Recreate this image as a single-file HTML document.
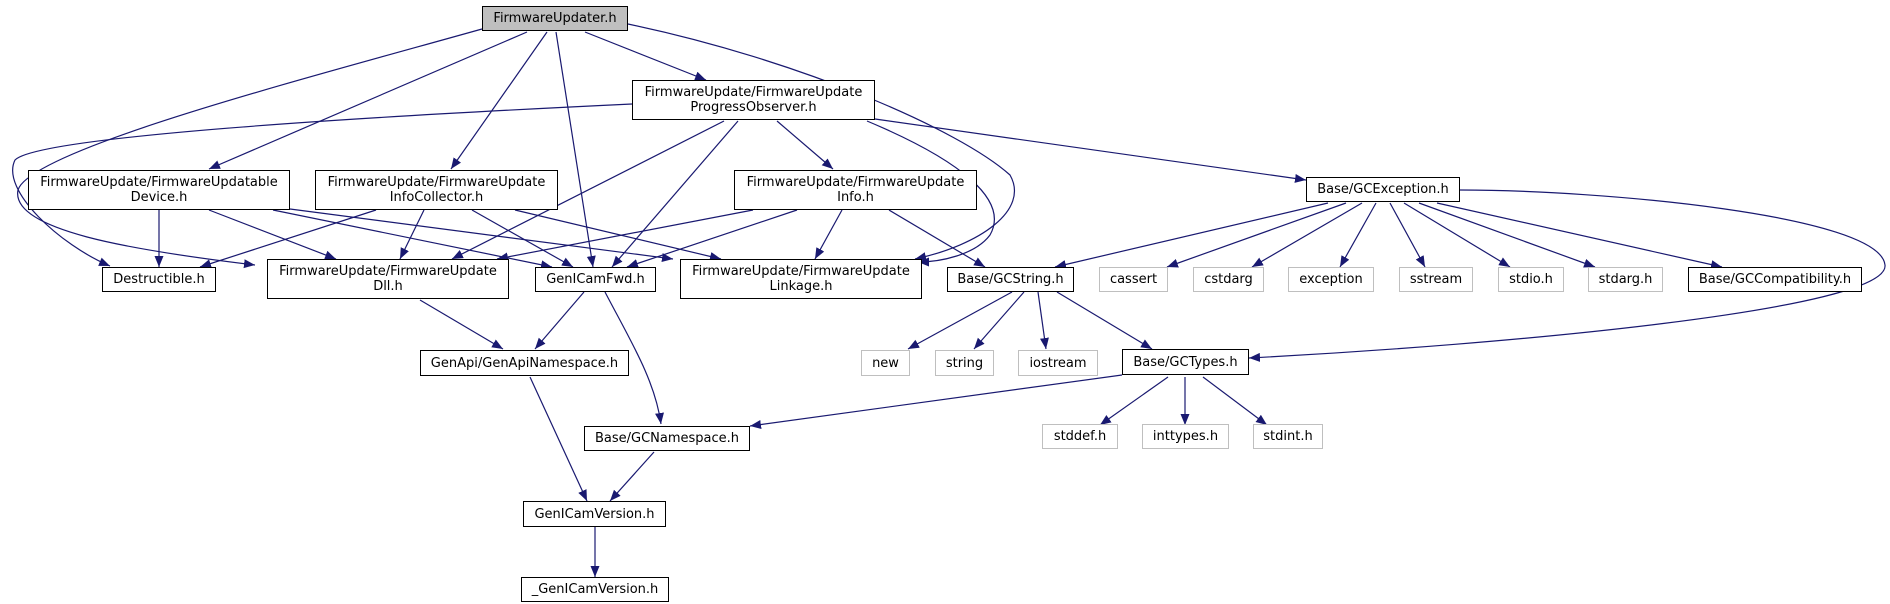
<!DOCTYPE html>
<html><head><meta charset="utf-8"><style>
html,body{margin:0;padding:0;background:#fff;width:1890px;height:604px;overflow:hidden}
.n{position:absolute;box-sizing:border-box;border:1px solid #000;background:#fff;font-family:"DejaVu Sans","Liberation Sans",sans-serif;font-size:13px;color:#000;display:flex;align-items:center;justify-content:center;text-align:center;line-height:15px;white-space:nowrap}
.g{border-color:#bfbfbf}
svg{position:absolute;left:0;top:0}
</style></head><body>
<svg width="1890" height="604" viewBox="0 0 1890 604">
<defs><marker id="a" markerUnits="userSpaceOnUse" markerWidth="12" markerHeight="10" refX="11" refY="4.5" orient="auto"><path d="M0,0 L11,4.5 L0,9 z" fill="#191970"/></marker></defs>
<g stroke="#191970" stroke-width="1.2" fill="none" marker-end="url(#a)">
<path d="M482,29 C300,80 30,150 18,190 C10,230 130,250 255,265"/>
<path d="M632,104 C400,115 40,135 15,160 C0,190 60,245 110,266"/>
<path d="M527,32 L209,169"/>
<path d="M547,32 L451,169"/>
<path d="M556,32 L593,267"/>
<path d="M585,32 L706,80"/>
<path d="M628,24 C800,60 960,130 1010,175 C1030,210 980,245 915,259"/>
<path d="M724,121 L452,259"/>
<path d="M738,121 L612,267"/>
<path d="M777,121 L833,169"/>
<path d="M867,121 C960,160 1010,200 990,235 C975,255 940,262 918,262"/>
<path d="M875,119 L1306,180"/>
<path d="M159,210 L159,267"/>
<path d="M209,210 L336,259"/>
<path d="M273,210 L552,267"/>
<path d="M290,209 L673,259"/>
<path d="M376,210 L200,267"/>
<path d="M424,210 L400,259"/>
<path d="M472,210 L573,267"/>
<path d="M515,210 L721,259"/>
<path d="M753,210 L497,259"/>
<path d="M797,210 L627,267"/>
<path d="M842,210 L815,259"/>
<path d="M889,210 L985,267"/>
<path d="M1328,203 L1055,267"/>
<path d="M1346,203 L1167,267"/>
<path d="M1362,203 L1252,267"/>
<path d="M1376,203 L1340,267"/>
<path d="M1390,203 L1425,267"/>
<path d="M1404,203 L1510,267"/>
<path d="M1419,203 L1595,267"/>
<path d="M1437,203 L1722,267"/>
<path d="M1460,190 C1600,190 1880,215 1885,265 C1890,310 1500,345 1249,358"/>
<path d="M1012,292 L908,349"/>
<path d="M1024,292 L974,349"/>
<path d="M1038,292 L1046,349"/>
<path d="M1057,292 L1152,349"/>
<path d="M584,292 L535,349"/>
<path d="M605,292 C630,340 655,380 661,424"/>
<path d="M420,300 L503,349"/>
<path d="M530,377 L587,501"/>
<path d="M654,452 L610,501"/>
<path d="M595,527 L595,577"/>
<path d="M1122,375 L750,426"/>
<path d="M1168,377 L1100,425"/>
<path d="M1185,377 L1185,425"/>
<path d="M1203,377 L1267,425"/>
</g></svg>
<div class="n" style="left:482px;top:6px;width:146px;height:25px;background:#bfbfbf">FirmwareUpdater.h</div>
<div class="n" style="left:632px;top:80px;width:243px;height:40px">FirmwareUpdate/FirmwareUpdate<br>ProgressObserver.h</div>
<div class="n" style="left:28px;top:170px;width:262px;height:40px">FirmwareUpdate/FirmwareUpdatable<br>Device.h</div>
<div class="n" style="left:315px;top:170px;width:243px;height:40px">FirmwareUpdate/FirmwareUpdate<br>InfoCollector.h</div>
<div class="n" style="left:734px;top:170px;width:243px;height:40px">FirmwareUpdate/FirmwareUpdate<br>Info.h</div>
<div class="n" style="left:102px;top:267px;width:114px;height:25px">Destructible.h</div>
<div class="n" style="left:267px;top:259px;width:242px;height:40px">FirmwareUpdate/FirmwareUpdate<br>Dll.h</div>
<div class="n" style="left:535px;top:267px;width:121px;height:25px">GenICamFwd.h</div>
<div class="n" style="left:680px;top:259px;width:242px;height:40px">FirmwareUpdate/FirmwareUpdate<br>Linkage.h</div>
<div class="n" style="left:1306px;top:177px;width:154px;height:25px">Base/GCException.h</div>
<div class="n" style="left:947px;top:267px;width:127px;height:25px">Base/GCString.h</div>
<div class="n g" style="left:1099px;top:267px;width:69px;height:25px">cassert</div>
<div class="n g" style="left:1193px;top:267px;width:71px;height:25px">cstdarg</div>
<div class="n g" style="left:1288px;top:267px;width:86px;height:25px">exception</div>
<div class="n g" style="left:1399px;top:267px;width:74px;height:25px">sstream</div>
<div class="n g" style="left:1498px;top:267px;width:66px;height:25px">stdio.h</div>
<div class="n g" style="left:1588px;top:267px;width:75px;height:25px">stdarg.h</div>
<div class="n" style="left:1688px;top:267px;width:174px;height:25px">Base/GCCompatibility.h</div>
<div class="n" style="left:420px;top:350px;width:209px;height:26px">GenApi/GenApiNamespace.h</div>
<div class="n g" style="left:861px;top:350px;width:49px;height:26px">new</div>
<div class="n g" style="left:935px;top:350px;width:59px;height:26px">string</div>
<div class="n g" style="left:1018px;top:350px;width:80px;height:26px">iostream</div>
<div class="n" style="left:1122px;top:349px;width:127px;height:26px">Base/GCTypes.h</div>
<div class="n" style="left:584px;top:426px;width:166px;height:25px">Base/GCNamespace.h</div>
<div class="n g" style="left:1042px;top:424px;width:76px;height:25px">stddef.h</div>
<div class="n g" style="left:1142px;top:424px;width:87px;height:25px">inttypes.h</div>
<div class="n g" style="left:1253px;top:424px;width:70px;height:25px">stdint.h</div>
<div class="n" style="left:523px;top:501px;width:143px;height:26px">GenICamVersion.h</div>
<div class="n" style="left:521px;top:577px;width:148px;height:25px">_GenICamVersion.h</div>
</body></html>
